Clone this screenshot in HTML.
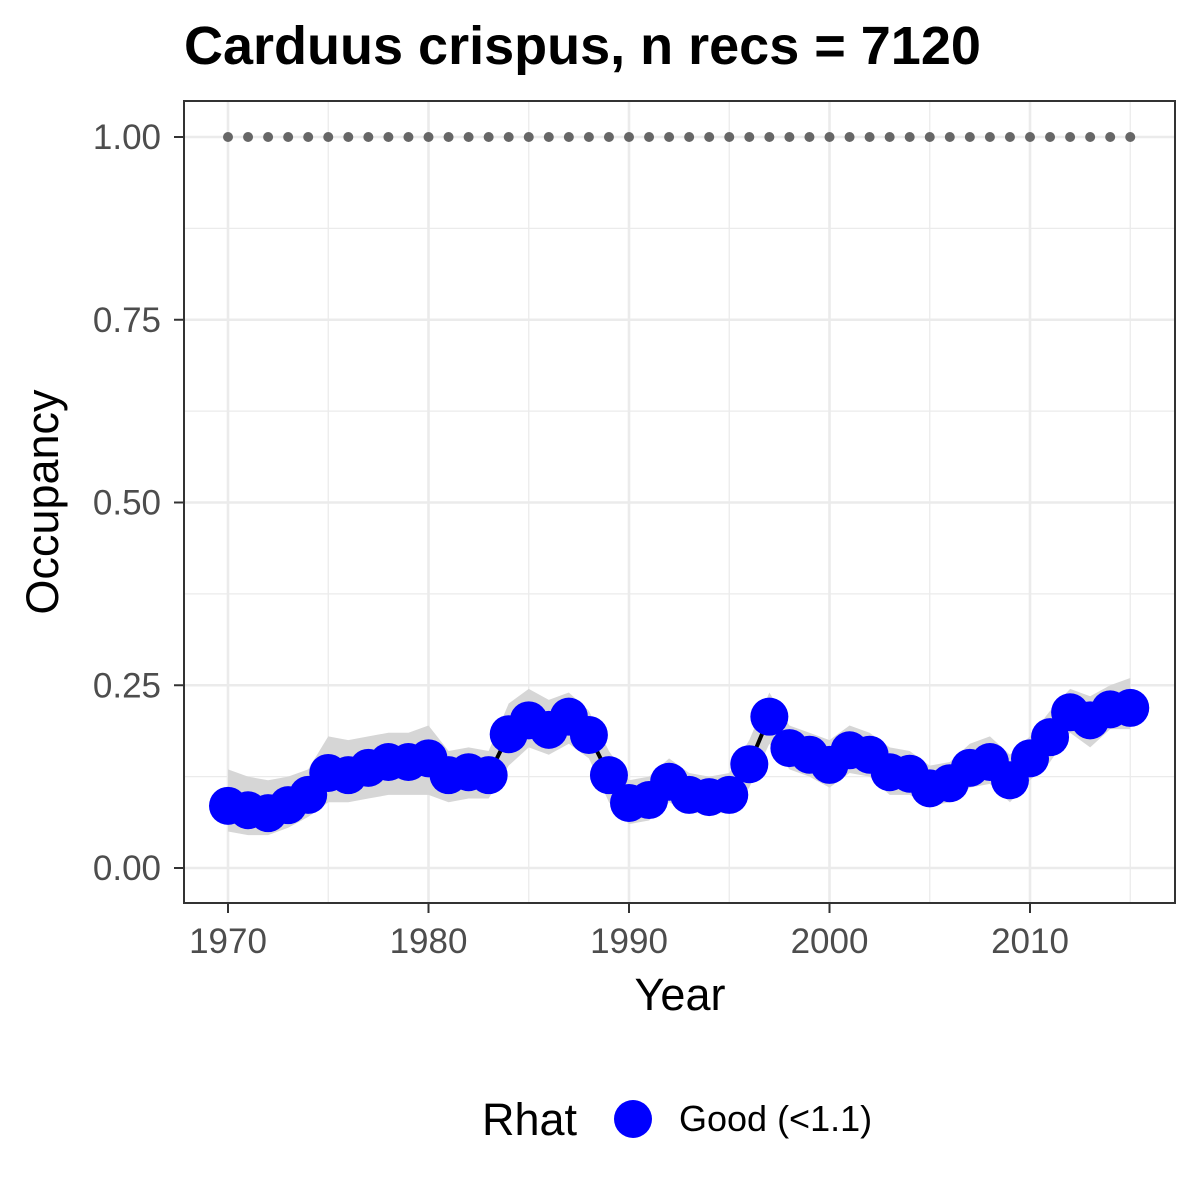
<!DOCTYPE html>
<html><head><meta charset="utf-8"><style>body{margin:0;background:#fff}svg{display:block;font-family:"Liberation Sans",Arial,sans-serif}</style></head>
<body>
<svg id="chart" width="1200" height="1200" viewBox="0 0 1200 1200">
<text x="184" y="64" font-size="54" font-weight="bold" fill="#000">Carduus crispus, n recs = 7120</text>
<g id="grid"></g><g id="ribbon"></g><g id="line"></g><g id="pts"></g>
<rect x="184" y="101" width="991" height="802" fill="none" stroke="#333" stroke-width="2"/>
<g id="axes"></g>
<text x="680" y="1010" font-size="45" text-anchor="middle">Year</text>
<text transform="translate(58,502) rotate(-90)" font-size="45" text-anchor="middle">Occupancy</text>
<g>
<text x="482" y="1135" font-size="45">Rhat</text>
<circle cx="633" cy="1119" r="19" fill="#0000ff"/>
<text x="679" y="1131" font-size="36">Good (&lt;1.1)</text>
</g>
</svg>
<script>
const years=[1970,1971,1972,1973,1974,1975,1976,1977,1978,1979,1980,1981,1982,1983,1984,1985,1986,1987,1988,1989,1990,1991,1992,1993,1994,1995,1996,1997,1998,1999,2000,2001,2002,2003,2004,2005,2006,2007,2008,2009,2010,2011,2012,2013,2014,2015];
const occ=[0.085,0.079,0.075,0.086,0.100,0.130,0.127,0.137,0.145,0.145,0.150,0.127,0.131,0.127,0.183,0.202,0.189,0.207,0.182,0.127,0.089,0.093,0.118,0.100,0.097,0.100,0.142,0.207,0.164,0.155,0.141,0.161,0.155,0.131,0.129,0.109,0.116,0.137,0.145,0.120,0.150,0.179,0.213,0.202,0.217,0.219];
const upper=[0.135,0.125,0.120,0.125,0.135,0.180,0.175,0.180,0.185,0.185,0.195,0.160,0.165,0.160,0.225,0.245,0.230,0.240,0.215,0.160,0.120,0.125,0.150,0.130,0.125,0.130,0.175,0.240,0.195,0.185,0.175,0.195,0.185,0.165,0.160,0.140,0.145,0.170,0.180,0.155,0.180,0.215,0.245,0.235,0.250,0.260];
const lower=[0.050,0.045,0.045,0.055,0.070,0.090,0.090,0.095,0.100,0.100,0.100,0.090,0.095,0.095,0.140,0.165,0.155,0.170,0.150,0.090,0.060,0.065,0.090,0.075,0.075,0.075,0.110,0.170,0.135,0.125,0.110,0.130,0.125,0.100,0.100,0.085,0.090,0.110,0.115,0.090,0.120,0.145,0.185,0.165,0.190,0.190];
const xTicks=[1970,1980,1990,2000,2010];
const yTicks=[0,0.25,0.5,0.75,1.0];
const yLabels=["0.00","0.25","0.50","0.75","1.00"];
const NS="http://www.w3.org/2000/svg";
const X=v=>228+(v-1970)*20.05;
const Y=v=>868-v*731;
function mk(tag,attrs,parent){const e=document.createElementNS(NS,tag);for(const k in attrs)e.setAttribute(k,attrs[k]);document.getElementById(parent).appendChild(e);return e;}
for(let v=1965;v<=2020;v+=5){const x=X(v);if(x<185||x>1174)continue;const major=v%10===0;
 const g=mk('line',{x1:x,x2:x,y1:102,y2:902,stroke:'#ebebeb','stroke-width':major?2.6:1.3},'grid');
 
 }
for(let v=0;v<=1.0001;v+=0.125){const y=Y(v);const major=Math.round(v*1000)%250===0;
 const g=mk('line',{x1:185,x2:1174,y1:y,y2:y,stroke:'#ebebeb','stroke-width':major?2.6:1.3},'grid');
 
 }
let d='M'+years.map((y,i)=>X(y)+','+Y(upper[i])).join('L')+'L'+years.slice().reverse().map((y,j)=>{const i=years.length-1-j;return X(y)+','+Y(lower[i]);}).join('L')+'Z';
const rb=mk('path',{d:d,fill:'#d6d6d6'},'ribbon');


const ln=mk('polyline',{points:years.map((y,i)=>X(y)+','+Y(occ[i])).join(' '),fill:'none',stroke:'#000','stroke-width':4},'line');


years.forEach((y,i)=>{
 const c=mk('circle',{cx:X(y),cy:Y(occ[i]),r:19,fill:'#0000ff'},'pts');
 
 
 const r=mk('circle',{cx:X(y),cy:Y(1.0),r:5,fill:'#666'},'pts');
 
 
});
xTicks.forEach(v=>{const x=X(v);
 const t=mk('line',{x1:x,x2:x,y1:903,y2:913,stroke:'#333','stroke-width':2},'axes');
 
 
 const l=mk('text',{x:x,y:953,'font-size':35,'text-anchor':'middle',fill:'#4d4d4d'},'axes');l.textContent=v;
 
 });
yTicks.forEach((v,i)=>{const y=Y(v);
 const t=mk('line',{x1:174,x2:184,y1:y,y2:y,stroke:'#333','stroke-width':2},'axes');
 
 
 const l=mk('text',{x:161,y:y+12,'font-size':35,'text-anchor':'end',fill:'#4d4d4d'},'axes');l.textContent=yLabels[i];
 
 });
</script>
</body></html>
